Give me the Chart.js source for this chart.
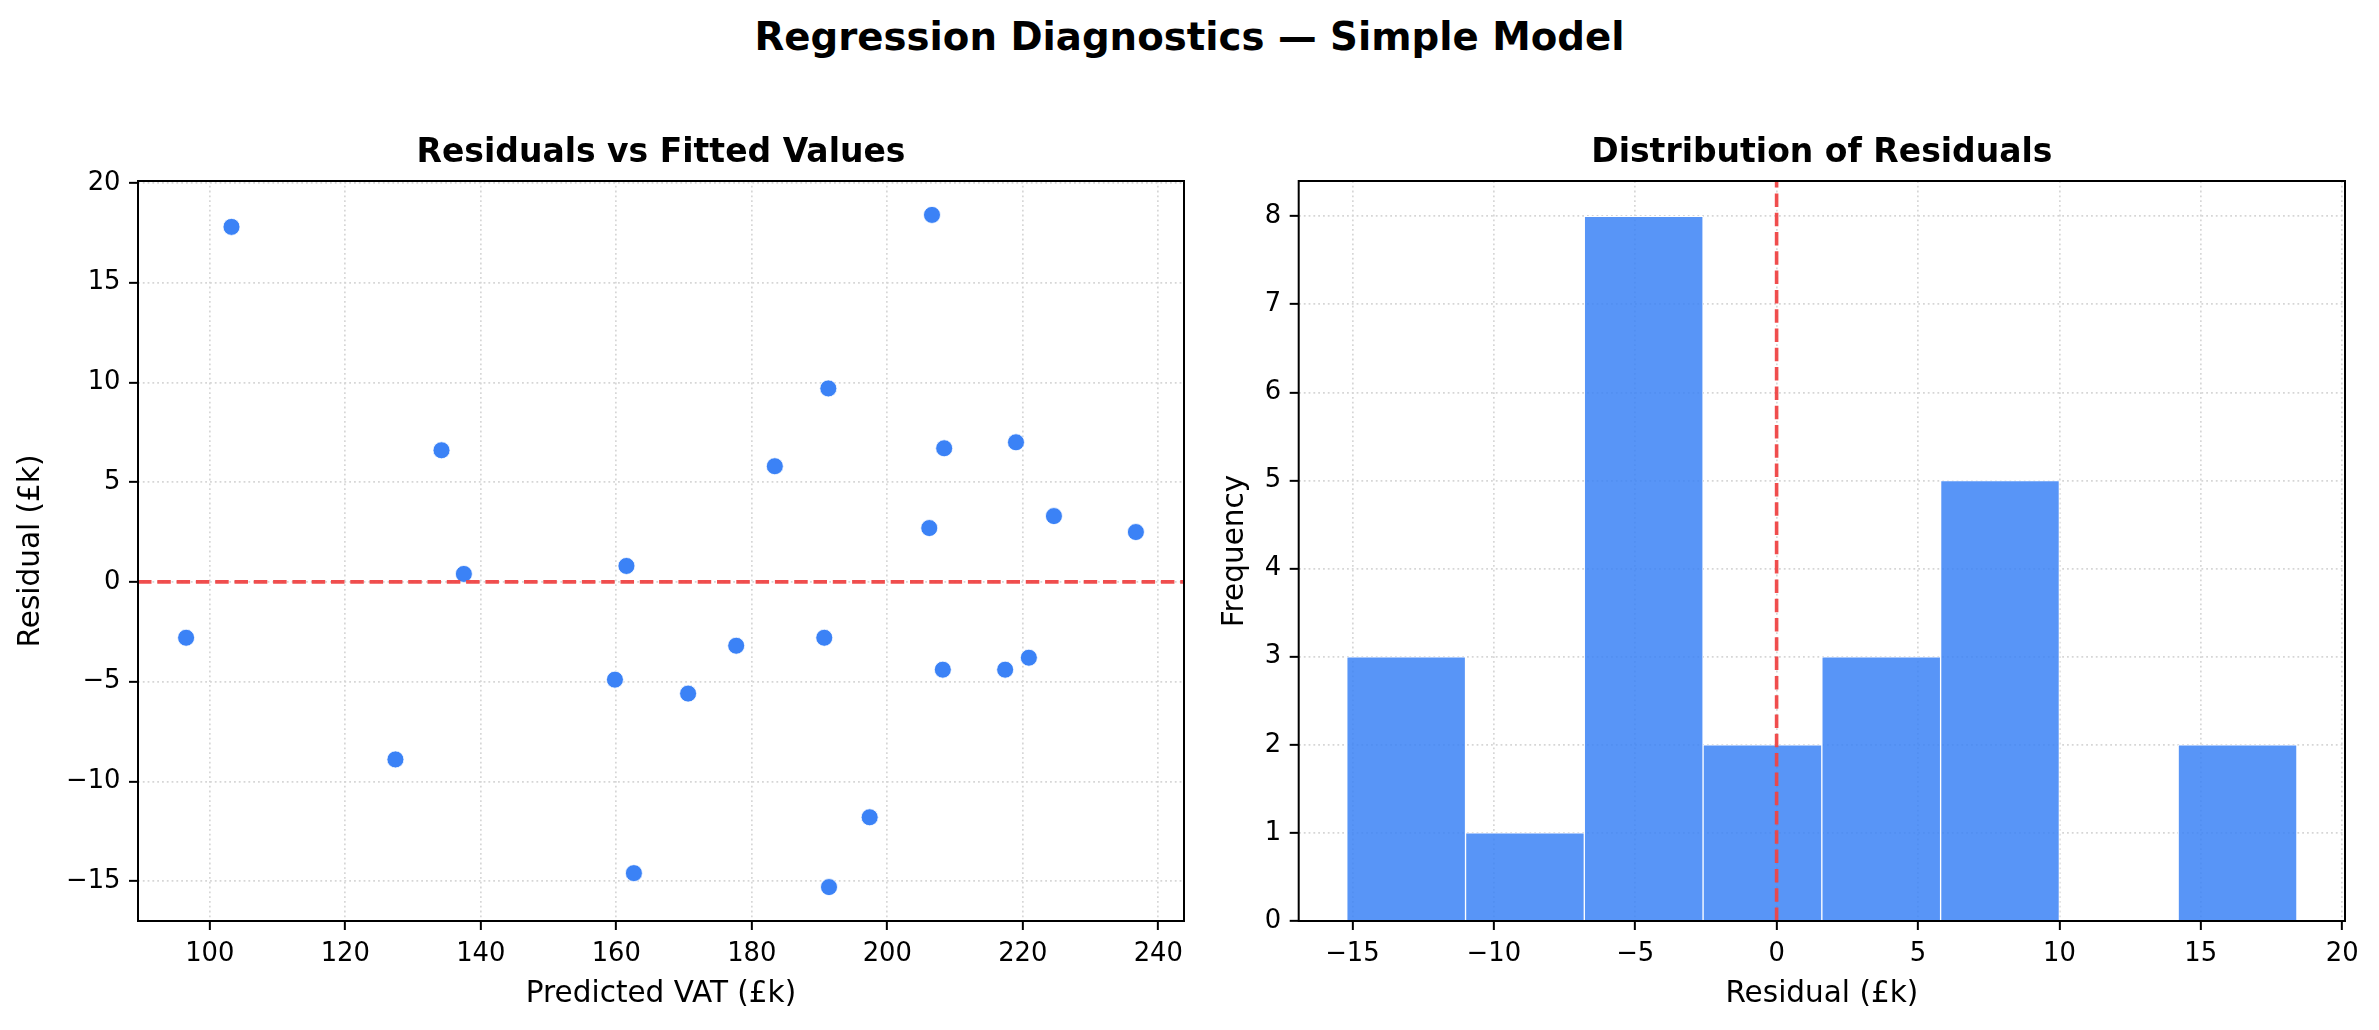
<!DOCTYPE html>
<html>
<head>
<meta charset="utf-8">
<title>Regression Diagnostics — Simple Model</title>
<script src="https://cdn.jsdelivr.net/npm/chart.js@4.4.1/dist/chart.umd.min.js"></script>
<style>
    html, body {
        margin: 0;
        padding: 0;
        background: #fff;
    }

    body {
        position: relative;
        width: 2379px;
        height: 1030px;
        overflow: hidden;
    }

    #suptitle {
        position: absolute;
        left: 0;
        top: 15px;
        width: 2379px;
        text-align: center;
        font: bold 38.7px "DejaVu Sans";
        line-height: 44px;
        color: #000;
    }

    canvas {
        position: absolute;
        top: 0;
    }

    #fittedChart { left: 0; }
    #histChart { left: 1190px; }
</style>
</head>
<body>

<div id="suptitle">Regression Diagnostics — Simple Model</div>
<canvas id="fittedChart" width="1200" height="1030"></canvas>
<canvas id="histChart" width="1189" height="1030"></canvas>

<script>
/*
=====================================
DATA
=====================================
*/

// left panel: predicted VAT (£k) and residual (£k) for each observation
const fittedVat = [
    96.5, 103.2, 127.4, 134.2, 137.5, 159.8, 161.5, 162.6,
    170.6, 177.7, 183.4, 190.7, 191.3, 191.4, 197.4, 206.2,
    206.6, 208.2, 208.4, 217.4, 219.0, 220.9, 224.6, 236.7
];
const residuals = [
    -2.8, 17.8, -8.9, 6.6, 0.4, -4.9, 0.8, -14.6,
    -5.6, -3.2, 5.8, -2.8, 9.7, -15.3, -11.8, 2.7,
    18.4, -4.4, 6.7, -4.4, 7.0, -3.8, 3.3, 2.5
];

// right panel: histogram bin edges and counts
const binEdges = [-15.2, -11.0, -6.8, -2.6, 1.6, 5.8, 10.0, 14.2, 18.4];
const binCounts = [3, 1, 8, 2, 3, 5, 0, 2];

// axis limits and ticks
const fittedXLimits = [89.4, 243.8];
const fittedYLimits = [-17.0, 20.1];
const fittedXStep = 20;
const fittedYStep = 5;

const histXLimits = [-16.9, 20.1];
const histYLimits = [0, 8.4];
const histXStep = 5;
const histYStep = 1;

const referenceValue = 0;

/*
=====================================
STYLE
=====================================
*/

const FONT = "DejaVu Sans";
const BLUE = "#3b82f6";
const BAR_BLUE = "rgba(59, 130, 246, 0.85)";
const RED = "rgba(239, 68, 68, 0.95)";
const GRID = "#d6d6d6";

const tickFont = { family: FONT, size: 25.8 };
const labelFont = { family: FONT, size: 29.5 };
const titleFont = { family: FONT, size: 33, weight: "bold" };

function minus(value) {
    return String(value).replace("-", "\u2212");
}

/*
=====================================
PLUGINS: frame + dashed reference line
=====================================
*/

const framePlugin = {
    id: "frame",
    afterDraw(chart) {
        const { ctx, chartArea: a } = chart;
        ctx.save();
        ctx.strokeStyle = "#000";
        ctx.lineWidth = 2;
        ctx.strokeRect(a.left, a.top, a.width, a.height);
        ctx.restore();
    }
};

const refLinePlugin = {
    id: "refLine",
    afterDatasetsDraw(chart, args, opts) {
        const { ctx, chartArea: a } = chart;
        const scale = chart.scales[opts.axis];
        const p = scale.getPixelForValue(opts.value);

        ctx.save();
        ctx.beginPath();
        ctx.rect(a.left, a.top, a.width, a.height);
        ctx.clip();
        ctx.strokeStyle = RED;
        ctx.lineWidth = 3.6;
        ctx.setLineDash([13.5, 5.8]);
        ctx.beginPath();
        if (opts.axis === "y") {
            ctx.moveTo(a.left, p);
            ctx.lineTo(a.right, p);
        } else {
            ctx.moveTo(p, a.bottom);
            ctx.lineTo(p, a.top);
        }
        ctx.stroke();
        ctx.restore();
    }
};

/*
=====================================
AXIS HELPER
=====================================
*/

function axis(limits, step, titleText, titlePadding, fit) {
    return {
        type: "linear",
        min: limits[0],
        max: limits[1],
        offset: false,
        afterFit: fit,
        title: {
            display: true,
            text: titleText,
            color: "#000",
            font: labelFont,
            padding: titlePadding
        },
        ticks: {
            stepSize: step,
            includeBounds: false,
            color: "#000",
            font: tickFont,
            padding: 8.5,
            autoSkip: false,
            maxRotation: 0,
            callback: value => minus(value)
        },
        grid: {
            color: GRID,
            lineWidth: 1.7,
            offset: false,
            drawTicks: true,
            tickLength: 9,
            tickColor: "#000",
            tickWidth: 2
        },
        border: {
            display: false,
            dash: [1.8, 3]
        }
    };
}

function baseOptions(titleText, padding, ref) {
    return {
        responsive: false,
        animation: false,
        devicePixelRatio: 1,
        events: [],
        layout: { padding: padding },
        plugins: {
            legend: { display: false },
            tooltip: { enabled: false },
            title: {
                display: true,
                text: titleText,
                fullSize: false,
                color: "#000",
                font: titleFont,
                padding: { top: 0, bottom: 8 }
            },
            refLine: ref
        }
    };
}

/*
=====================================
LEFT: RESIDUALS VS FITTED
=====================================
*/

const fittedOptions = baseOptions(
    "Residuals vs Fitted Values",
    { top: 133.4, left: 0, right: 16, bottom: 0 },
    { axis: "y", value: referenceValue }
);

fittedOptions.scales = {
    x: axis(fittedXLimits, fittedXStep, "Predicted VAT (£k)", { top: 0, bottom: 18 },
        s => { s.height = 109; }),
    y: axis(fittedYLimits, fittedYStep, "Residual (£k)", { top: 14, bottom: 0 },
        s => { s.width = 138; })
};

new Chart(document.getElementById("fittedChart"), {
    type: "scatter",
    data: {
        datasets: [{
            data: fittedVat.map((x, i) => ({ x: x, y: residuals[i] })),
            backgroundColor: BLUE,
            borderColor: "#fff",
            borderWidth: 0.8,
            pointRadius: 8.5,
            pointHoverRadius: 8.5
        }]
    },
    options: fittedOptions,
    plugins: [refLinePlugin, framePlugin]
});

/*
=====================================
RIGHT: DISTRIBUTION OF RESIDUALS
=====================================
*/

const binCentres = binCounts.map((_, i) => (binEdges[i] + binEdges[i + 1]) / 2);

const histOptions = baseOptions(
    "Distribution of Residuals",
    { top: 133.4, left: 0, right: 34, bottom: 0 },
    { axis: "x", value: referenceValue }
);

histOptions.scales = {
    x: axis(histXLimits, histXStep, "Residual (£k)", { top: 0, bottom: 18 },
        s => { s.height = 109; }),
    y: axis(histYLimits, histYStep, "Frequency", { top: 28, bottom: 0 },
        s => { s.width = 108.7; })
};

new Chart(document.getElementById("histChart"), {
    type: "bar",
    data: {
        datasets: [{
            data: binCentres.map((c, i) => ({ x: c, y: binCounts[i] })),
            backgroundColor: BAR_BLUE,
            borderColor: "#fff",
            borderWidth: 1,
            borderSkipped: "start",
            barPercentage: 1,
            categoryPercentage: 1
        }]
    },
    options: histOptions,
    plugins: [refLinePlugin, framePlugin]
});
</script>
</body>
</html>
